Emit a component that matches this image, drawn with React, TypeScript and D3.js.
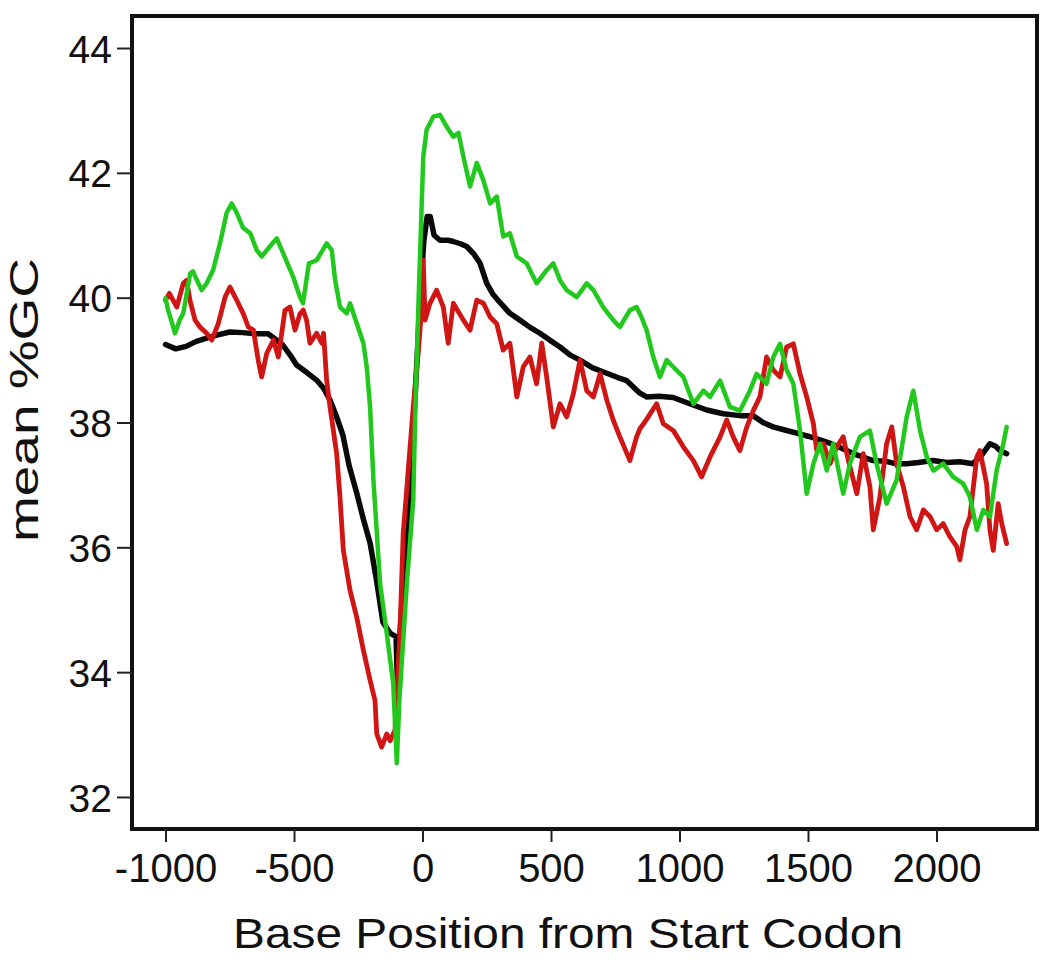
import { useEffect, useRef } from 'react'
import * as d3 from 'd3'

// tick values and labels
const xTicks = [-1000, -500, 0, 500, 1000, 1500, 2000]
const xTickLabels = ['-1000', '-500', '0', '500', '1000', '1500', '2000']
const yTicks = [32, 34, 36, 38, 40, 42, 44]
const yTickLabels = ['32', '34', '36', '38', '40', '42', '44']

// black series (all genes, smooth)
const blackPos = [
  -1000, -960, -920, -880, -840, -800, -750, -700, -650, -600, -545, -510, -490, -450, -412, -385, -360, -335,
  -310, -285, -256, -230, -204, -180, -154, -125, -103, -98, -88, -75, -50, -30, -12, 5, 18, 30, 45, 68, 100,
  120, 150, 172, 200, 224, 250, 275, 302, 340, 379, 420, 457, 495, 535, 575, 613, 660, 717, 760, 795, 846, 872,
  920, 975, 1040, 1106, 1170, 1235, 1286, 1325, 1364, 1410, 1456, 1500, 1547, 1590, 1624, 1690, 1753, 1800,
  1840, 1884, 1930, 1986, 2040, 2091, 2142, 2180, 2208, 2230, 2247, 2273,
]
const blackGC = [
  39.25, 39.18, 39.22, 39.3, 39.35, 39.4, 39.45, 39.44, 39.42, 39.42, 39.25, 39.05, 38.92, 38.8, 38.68, 38.55,
  38.36, 38.1, 37.8, 37.3, 36.87, 36.45, 36.07, 35.5, 34.8, 34.62, 34.57, 33.87, 34.6, 35.4, 36.8, 38.3, 39.8,
  40.9, 41.3, 41.3, 41.0, 40.92, 40.92, 40.9, 40.86, 40.82, 40.7, 40.55, 40.23, 40.05, 39.92, 39.75, 39.64,
  39.52, 39.43, 39.32, 39.21, 39.08, 39.0, 38.88, 38.79, 38.72, 38.67, 38.47, 38.41, 38.42, 38.4, 38.3, 38.2,
  38.14, 38.11, 38.11, 38.0, 37.93, 37.88, 37.83, 37.78, 37.72, 37.66, 37.6, 37.48, 37.39, 37.38, 37.34, 37.34,
  37.36, 37.39, 37.36, 37.37, 37.34, 37.5, 37.66, 37.62, 37.55, 37.5,
]

// red series
const redPos = [
  -1000, -985, -956, -931, -918, -905, -885, -866, -840, -820, -795, -768, -749, -723, -697, -678, -658, -639,
  -626, -606, -580, -561, -535, -516, -496, -477, -464, -451, -438, -412, -392, -385, -373, -360, -334, -321,
  -308, -282, -256, -230, -204, -185, -178, -159, -139, -126, -107, -88, -75, -60, -35, -15, 0, 3, 10, 29, 55,
  81, 100, 120, 159, 185, 211, 237, 263, 289, 314, 340, 367, 392, 418, 444, 464, 483, 509, 535, 561, 587, 613,
  639, 665, 691, 717, 742, 768, 807, 833, 846, 872, 911, 937, 976, 1015, 1054, 1086, 1119, 1158, 1184, 1209,
  1235, 1262, 1287, 1313, 1339, 1365, 1391, 1417, 1443, 1469, 1495, 1521, 1534, 1560, 1586, 1612, 1637, 1657,
  1690, 1715, 1741, 1754, 1780, 1806, 1826, 1845, 1871, 1897, 1923, 1949, 1975, 2001, 2026, 2052, 2079, 2091,
  2111, 2130, 2157, 2169, 2195, 2208, 2221, 2240, 2254, 2273,
]
const redGC = [
  39.96, 40.07, 39.85, 40.23, 40.28, 39.96, 39.64, 39.53, 39.43, 39.32, 39.58, 40.01, 40.17, 39.96, 39.74, 39.53,
  39.48, 38.99, 38.73, 39.11, 39.32, 39.05, 39.8, 39.85, 39.48, 39.74, 39.8, 39.64, 39.27, 39.43, 39.27, 39.43,
  38.68, 38.25, 37.5, 36.8, 35.95, 35.31, 34.88, 34.35, 33.87, 33.55, 33.01, 32.8, 33.01, 32.9, 33.07, 34.62,
  36.23, 37.0, 38.3, 39.2, 40.0, 40.6, 39.64, 39.91, 40.12, 39.85, 39.27, 39.91, 39.64, 39.48, 39.96, 39.91,
  39.69, 39.58, 39.16, 39.27, 38.41, 38.89, 39.05, 38.62, 39.27, 38.73, 37.93, 38.3, 38.09, 38.46, 39.0, 38.51,
  38.41, 38.78, 38.36, 38.04, 37.77, 37.39, 37.77, 37.9, 38.05, 38.3, 37.98, 37.87, 37.61, 37.39, 37.13, 37.45,
  37.77, 38.04, 37.77, 37.55, 37.93, 38.19, 38.41, 39.05, 38.84, 38.73, 39.21, 39.26, 38.78, 38.41, 37.98, 37.55,
  37.66, 37.34, 37.61, 37.77, 37.39, 36.86, 37.5, 36.97, 36.28, 36.81, 37.66, 37.93, 37.34, 36.97, 36.49, 36.28,
  36.6, 36.49, 36.28, 36.38, 36.17, 36.01, 35.8, 36.28, 36.49, 37.45, 37.55, 37.02, 36.28, 35.95, 36.7, 36.38,
  36.06,
]

// green series
const greenPos = [
  -1000, -990, -978, -963, -945, -931, -904, -893, -879, -859, -840, -815, -788, -762, -742, -723, -698, -670,
  -645, -626, -594, -567, -542, -503, -477, -465, -442, -412, -390, -373, -353, -340, -321, -295, -282, -256,
  -230, -217, -204, -191, -165, -139, -114, -100, -90, -61, -36, -28, -15, 3, 16, 42, 68, 94, 120, 140, 159,
  185, 211, 237, 263, 289, 314, 340, 367, 405, 444, 483, 509, 535, 561, 600, 639, 665, 703, 742, 768, 807, 833,
  852, 872, 898, 924, 950, 976, 1015, 1054, 1093, 1119, 1158, 1196, 1235, 1274, 1300, 1339, 1365, 1391, 1417,
  1443, 1469, 1495, 1521, 1547, 1573, 1598, 1637, 1663, 1702, 1741, 1767, 1806, 1845, 1884, 1910, 1936, 1962,
  1988, 2026, 2065, 2104, 2130, 2157, 2182, 2208, 2234, 2260, 2273,
]
const greenGC = [
  39.99, 39.8, 39.64, 39.43, 39.64, 39.75, 40.39, 40.42, 40.29, 40.12, 40.23, 40.44, 40.87, 41.36, 41.51, 41.36,
  41.12, 41.03, 40.76, 40.66, 40.82, 40.95, 40.71, 40.33, 40.01, 39.91, 40.55, 40.6, 40.75, 40.87, 40.76, 40.28,
  39.85, 39.75, 39.91, 39.59, 39.27, 38.89, 38.25, 37.08, 35.42, 34.62, 33.82, 32.54, 33.55, 35.42, 36.76, 38.2,
  40.0, 42.26, 42.69, 42.9, 42.93, 42.74, 42.58, 42.64, 42.26, 41.78, 42.16, 41.88, 41.51, 41.62, 40.98, 41.03,
  40.66, 40.55, 40.23, 40.44, 40.55, 40.28, 40.12, 40.01, 40.23, 40.12, 39.85, 39.64, 39.53, 39.8, 39.85, 39.69,
  39.48, 39.05, 38.73, 39.0, 38.89, 38.73, 38.3, 38.51, 38.41, 38.67, 38.25, 38.19, 38.51, 38.78, 38.62, 39.05,
  39.26, 38.84, 38.62, 37.87, 36.86, 37.34, 37.66, 37.23, 37.66, 36.86, 37.34, 37.77, 37.87, 37.34, 36.7, 37.08,
  38.09, 38.51, 37.87, 37.45, 37.23, 37.34, 37.13, 37.02, 36.81, 36.28, 36.6, 36.49, 37.23, 37.66, 37.93,
]

const FONT = '"Liberation Sans", Arial, Helvetica, sans-serif'

export default function App() {
  const svgRef = useRef<SVGSVGElement>(null)

  useEffect(() => {
    if (!svgRef.current) return
    const svg = d3.select(svgRef.current)
    svg.selectAll('*').remove()

    const left = 132
    const right = 1037
    const top = 16
    const bottom = 829

    const x = d3.scaleLinear().domain([-1130.4, 2391.1]).range([left, right])
    const y = d3.scaleLinear().domain([31.487, 44.513]).range([bottom, top])

    svg.append('rect').attr('width', 1050).attr('height', 967).attr('fill', '#fff')

    const line = d3.line<[number, number]>()
      .x(d => x(d[0]))
      .y(d => y(d[1]))

    const series = [
      { pos: blackPos, gc: blackGC, color: '#0a0a0a', width: 5.5 },
      { pos: redPos, gc: redGC, color: '#d01515', width: 4.8 },
      { pos: greenPos, gc: greenGC, color: '#22c81e', width: 4.5 },
    ]

    series.forEach(s => {
      const pts = s.pos.map((p, i) => [p, s.gc[i]] as [number, number])
      svg.append('path')
        .datum(pts)
        .attr('fill', 'none')
        .attr('stroke', s.color)
        .attr('stroke-width', s.width)
        .attr('stroke-linejoin', 'round')
        .attr('stroke-linecap', 'round')
        .attr('d', line)
    })

    svg.append('rect')
      .attr('x', left)
      .attr('y', top)
      .attr('width', right - left)
      .attr('height', bottom - top)
      .attr('fill', 'none')
      .attr('stroke', '#111')
      .attr('stroke-width', 4)

    svg.append('g')
      .attr('transform', `translate(${left},0)`)
      .call(d3.axisLeft(y).tickValues(yTicks).tickSize(15).tickSizeOuter(0).tickPadding(5)
        .tickFormat((_d, i) => yTickLabels[i]))
      .call(g => g.select('.domain').remove())
      .call(g => g.selectAll('.tick line').attr('stroke', '#222').attr('stroke-width', 2))
      .call(g => g.selectAll('.tick text')
        .attr('fill', '#111')
        .attr('dy', '0.36em')
        .style('font-family', FONT)
        .style('font-size', '39px'))

    svg.append('g')
      .attr('transform', `translate(0,${bottom})`)
      .call(d3.axisBottom(x).tickValues(xTicks).tickSize(13).tickSizeOuter(0)
        .tickFormat((_d, i) => xTickLabels[i]))
      .call(g => g.select('.domain').remove())
      .call(g => g.selectAll('.tick line').attr('stroke', '#222').attr('stroke-width', 2))
      .call(g => g.selectAll('.tick text')
        .attr('fill', '#111')
        .attr('y', 53)
        .attr('dy', 0)
        .style('font-family', FONT)
        .style('font-size', '40px'))

    svg.append('text')
      .attr('x', 568)
      .attr('y', 948)
      .attr('text-anchor', 'middle')
      .attr('fill', '#111')
      .attr('textLength', 670)
      .attr('lengthAdjust', 'spacingAndGlyphs')
      .style('font-family', FONT)
      .style('font-size', '42px')
      .text('Base Position from Start Codon')

    svg.append('text')
      .attr('transform', 'translate(38,400) rotate(-90)')
      .attr('text-anchor', 'middle')
      .attr('fill', '#111')
      .attr('textLength', 284)
      .attr('lengthAdjust', 'spacingAndGlyphs')
      .style('font-family', FONT)
      .style('font-size', '40px')
      .text('mean %GC')
  }, [])

  return (
    <div style={{ position: 'absolute', left: 0, top: 0 }}>
      <svg ref={svgRef} width={1050} height={967} style={{ display: 'block' }}></svg>
    </div>
  )
}
